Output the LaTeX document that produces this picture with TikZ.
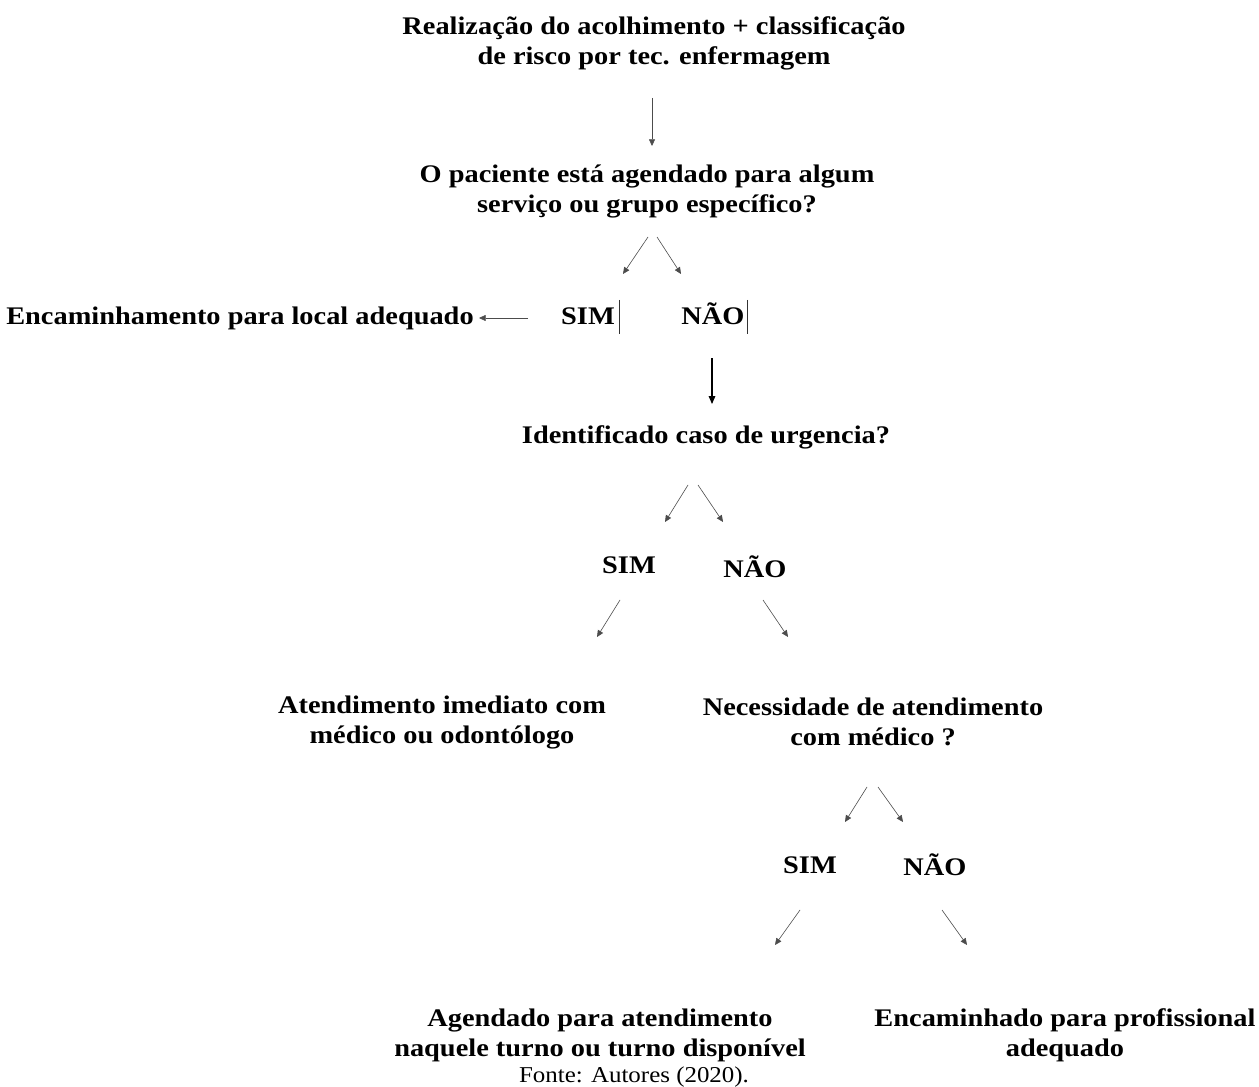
\documentclass[tikz,border=0pt]{standalone}
\usepackage{fontspec}
\setmainfont{Liberation Serif}
\newfontfamily\widebf{Liberation Serif}[FakeStretch=1.12]
\newfontfamily\fontefont{Liberation Serif}[FakeStretch=1.1]
\usetikzlibrary{arrows.meta}

\tikzset{every picture/.style={line width=0.75pt}}
\tikzset{
  txt/.style={inner sep=0pt, align=center, font=\widebf\bfseries\fontsize{19}{22.5}\selectfont},
  arr/.style={-{Triangle[length=5pt,width=4.5pt]}, line width=0.45pt, draw=black!70},
  arrb/.style={-{Triangle[length=6pt,width=5pt]}, line width=0.8pt, draw=black},
  bar/.style={line width=0.6pt, draw=black!80}
}

\begin{document}
\begin{tikzpicture}[x=0.75pt,y=0.75pt,yscale=-1,xscale=1]
\useasboundingbox (0,0) rectangle (1259,1087);

% texts
\node [txt] (acolh) at (654,43) {Realização do acolhimento + classificação\\de risco por tec. enfermagem};
\node [txt] (agend) at (647,191) {O paciente está agendado para algum\\serviço ou grupo específico?};
\node [txt, anchor=base] (sima) at (588,325) {SIM};
\node [txt, anchor=base] (naoa) at (713,325) {NÃO};
\node [txt] (local) at (240,318) {Encaminhamento para local adequado};
\node [txt] (urg) at (706,437) {Identificado caso de urgencia?};
\node [txt, anchor=base] (simb) at (629,573) {SIM};
\node [txt, anchor=base] (naob) at (755,577) {NÃO};
\node [txt] (imed) at (442,723) {Atendimento imediato com\\médico ou odontólogo};
\node [txt] (nec) at (873,722) {Necessidade de atendimento\\com médico ?};
\node [txt, anchor=base] (simc) at (810,873) {SIM};
\node [txt, anchor=base] (naoc) at (935,875) {NÃO};
\node [txt] (turno) at (600,1035) {Agendado para atendimento\\naquele turno ou turno disponível};
\node [txt] (prof) at (1065,1035) {Encaminhado para profissional\\adequado};
\node [inner sep=0pt, anchor=base, font=\fontefont\fontsize{17}{20}\selectfont] (fonte) at (634,1082) {Fonte: Autores (2020).};

% arrow ends
\coordinate (p1) at (652,98);   \coordinate (q1) at (652,146);
\coordinate (p2) at (648,237);  \coordinate (q2) at (623,274);
\coordinate (p3) at (657,237);  \coordinate (q3) at (681,274);
\coordinate (p4) at (528,318);  \coordinate (q4) at (479,318);
\coordinate (p5) at (712,358);  \coordinate (q5) at (712,404);
\coordinate (p6) at (688,485);  \coordinate (q6) at (665,522);
\coordinate (p7) at (698,485);  \coordinate (q7) at (723,522);
\coordinate (p8) at (620,600);  \coordinate (q8) at (597,637);
\coordinate (p9) at (763,600);  \coordinate (q9) at (788,637);
\coordinate (p10) at (867,787); \coordinate (q10) at (845,822);
\coordinate (p11) at (878,787); \coordinate (q11) at (903,822);
\coordinate (p12) at (800,910); \coordinate (q12) at (775,945);
\coordinate (p13) at (942,910); \coordinate (q13) at (967,945);

\draw [arr] (p1) -- (q1);
\draw [arr] (p2) -- (q2);
\draw [arr] (p3) -- (q3);
\draw [arr] (p4) -- (q4);
\draw [arrb] (p5) -- (q5);
\draw [arr] (p6) -- (q6);
\draw [arr] (p7) -- (q7);
\draw [arr] (p8) -- (q8);
\draw [arr] (p9) -- (q9);
\draw [arr] (p10) -- (q10);
\draw [arr] (p11) -- (q11);
\draw [arr] (p12) -- (q12);
\draw [arr] (p13) -- (q13);

% cursor bars
\draw [bar] ([xshift=3pt]sima.east |- 0,300) -- ([xshift=3pt]sima.east |- 0,334);
\draw [bar] ([xshift=2pt]naoa.east |- 0,300) -- ([xshift=2pt]naoa.east |- 0,334);

\end{tikzpicture}
\end{document}
